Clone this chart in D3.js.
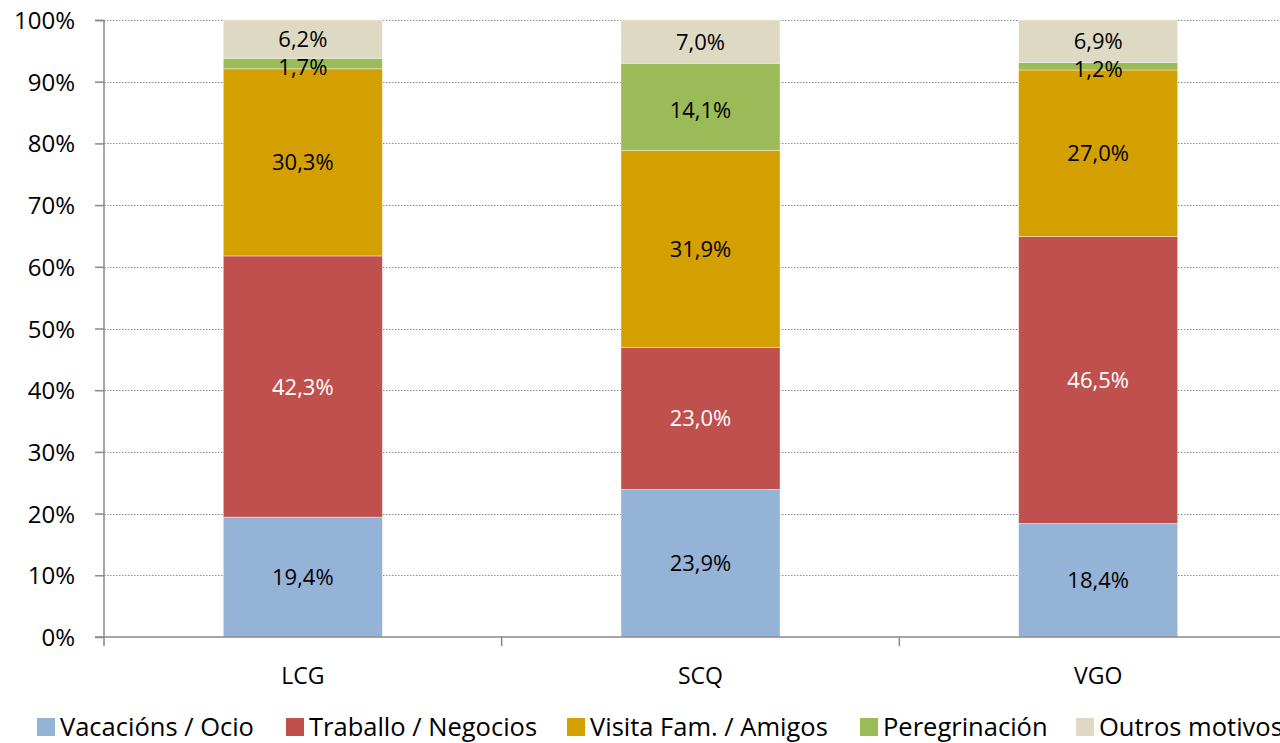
<!DOCTYPE html>
<html>
<head>
<meta charset="utf-8">
<script src="https://cdn.jsdelivr.net/npm/d3@7"></script>
<style>
  body { margin: 0; background: #fff; overflow: hidden; }
  text { font-family: "Open Sans", sans-serif; }
</style>
</head>
<body>
<div id="chart"></div>
<script>
// data
var airports = ["LCG", "SCQ", "VGO"];
var motives = ["Vacacións / Ocio", "Traballo / Negocios", "Visita Fam. / Amigos", "Peregrinación", "Outros motivos"];
var vacaciones = [19.4, 23.9, 18.4];
var traballo = [42.3, 23.0, 46.5];
var visita = [30.3, 31.9, 27.0];
var peregrinacion = [1.7, 14.1, 1.2];
var outros = [6.2, 7.0, 6.9];
var yTicks = [0, 10, 20, 30, 40, 50, 60, 70, 80, 90, 100];

var colors = ["#95b3d7", "#c0504d", "#d4a000", "#9bbb59", "#ddd9c3"];
var labelColors = ["#000", "#fff", "#000", "#000", "#000"];

var svgWidth = 1280, svgHeight = 743;
var margin = { top: 20, left: 104, bottom: 106, right: -17 };
var width = svgWidth - margin.left - margin.right;
var height = svgHeight - margin.top - margin.bottom;

var svg = d3.select("#chart").append("svg")
  .attr("width", svgWidth)
  .attr("height", svgHeight);

var chartGroup = svg.append("g")
  .attr("transform", `translate(${margin.left}, ${margin.top})`);

// build rows
var rows = airports.map(function(a, i) {
  var vals = [vacaciones[i], traballo[i], visita[i], peregrinacion[i], outros[i]];
  var row = { airport: a, total: d3.sum(vals) };
  motives.forEach(function(m, j) { row[m] = vals[j] / row.total; row["raw" + j] = vals[j]; });
  return row;
});

var stack = d3.stack().keys(motives);
var series = stack(rows);

var xScale = d3.scaleBand().domain(airports).range([0, width]).paddingInner(0.6).paddingOuter(0.3);
var xBand = d3.scaleBand().domain(airports).range([0, width]);
var yScale = d3.scaleLinear().domain([0, 1]).range([height, 0]);

// gridlines
chartGroup.append("g")
  .selectAll("line")
  .data(yTicks.filter(d => d > 0))
  .enter()
  .append("line")
  .attr("x1", 0)
  .attr("x2", width)
  .attr("y1", d => Math.round(yScale(d / 100)) + 0.5)
  .attr("y2", d => Math.round(yScale(d / 100)) + 0.5)
  .attr("stroke", "#8c8c8c")
  .attr("stroke-width", 1.2)
  .attr("stroke-dasharray", "1.5,1.5");

// bars
var groups = chartGroup.selectAll(".serie")
  .data(series)
  .enter()
  .append("g")
  .attr("fill", (d, i) => colors[i]);

groups.selectAll("rect")
  .data(d => d)
  .enter()
  .append("rect")
  .attr("x", d => xScale(d.data.airport))
  .attr("width", xScale.bandwidth())
  .attr("y", d => yScale(d[1]))
  .attr("height", d => yScale(d[0]) - yScale(d[1]))
  .attr("stroke", "rgba(255,255,255,0.5)")
  .attr("stroke-width", 0.8);

// labels
series.forEach(function(s, j) {
  chartGroup.selectAll(".lbl" + j)
    .data(s)
    .enter()
    .append("text")
    .attr("x", d => xScale(d.data.airport) + xScale.bandwidth() / 2)
    .attr("y", d => yScale((d[0] + d[1]) / 2) + 8 + (j === 3 ? 3 : 0))
    .attr("text-anchor", "middle")
    .attr("font-size", "22px")
    .attr("fill", labelColors[j])
    .text(d => d.data["raw" + j].toFixed(1).replace(".", ",") + "%");
});

// y axis
var yAxis = d3.axisLeft(yScale)
  .tickValues(yTicks.map(d => d / 100))
  .tickFormat(d => Math.round(d * 100) + "%")
  .tickSize(9)
  .tickPadding(20);

var yG = chartGroup.append("g").call(yAxis);
yG.select(".domain").attr("stroke", "#898989").attr("stroke-width", 1.5).attr("d", `M-9,0.5H0V${height}`);
yG.selectAll(".tick line").attr("stroke", "#898989").attr("stroke-width", 1.5);
yG.selectAll(".tick text")
  .attr("font-size", "24px")
  .attr("fill", "#000")
  .attr("font-family", "'Open Sans', sans-serif")
  .attr("dy", null)
  .attr("y", 8.5);

// x axis
var xG = chartGroup.append("g")
  .attr("transform", `translate(0, ${height})`);
xG.append("line")
  .attr("x1", -9).attr("x2", width)
  .attr("stroke", "#898989").attr("stroke-width", 1.5);
xG.selectAll(".xtick")
  .data([0].concat(airports.map(a => xBand(a) + xBand.bandwidth())))
  .enter()
  .append("line")
  .attr("x1", d => d).attr("x2", d => d)
  .attr("y1", 0).attr("y2", 9)
  .attr("stroke", "#898989").attr("stroke-width", 1.5);
xG.selectAll(".xlabel")
  .data(airports)
  .enter()
  .append("text")
  .attr("x", d => xBand(d) + xBand.bandwidth() / 2)
  .attr("y", 47)
  .attr("text-anchor", "middle")
  .attr("font-size", "23px")
  .attr("fill", "#000")
  .text(d => d);

// legend
var legendX = [37, 286, 567, 860, 1076];
var legend = svg.append("g").attr("transform", "translate(0, 736)");
var items = legend.selectAll("g")
  .data(motives)
  .enter()
  .append("g")
  .attr("transform", (d, i) => `translate(${legendX[i]}, 0)`);
items.append("rect")
  .attr("x", 0).attr("y", -18)
  .attr("width", 18).attr("height", 18)
  .attr("fill", (d, i) => colors[i]);
items.append("text")
  .attr("x", 23).attr("y", 0)
  .attr("font-size", "25.5px")
  .attr("fill", "#000")
  .text(d => d);
</script>
</body>
</html>
